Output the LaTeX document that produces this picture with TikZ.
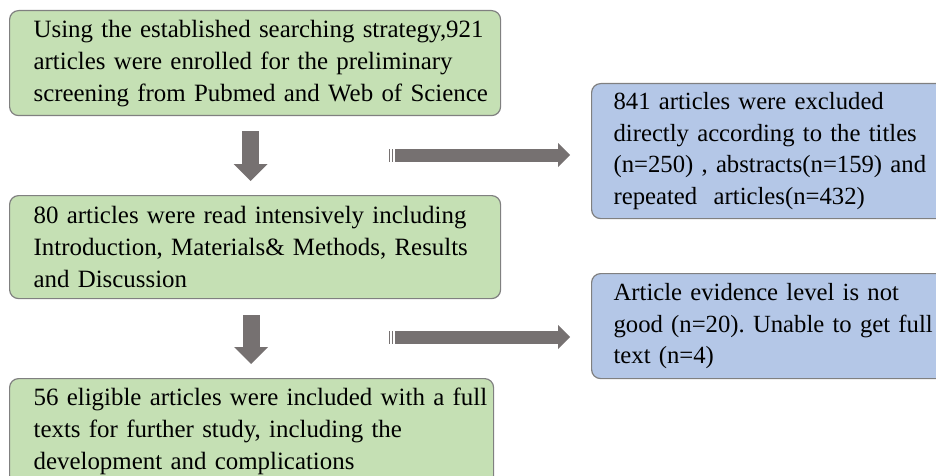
\documentclass[tikz,border=0pt]{standalone}
\usepackage{fontspec}
\setmainfont{Liberation Serif}
\usetikzlibrary{arrows.meta}
\definecolor{boxgreen}{RGB}{197,224,180}
\definecolor{boxblue}{RGB}{180,199,231}
\definecolor{boxline}{RGB}{128,128,128}
\definecolor{arrowgray}{RGB}{118,113,113}
\frenchspacing

\begin{document}
\begin{tikzpicture}[x=1pt,y=-1pt]
    \tikzstyle{box}=[draw=boxline, line width=1.2pt, rounded corners=9pt, anchor=north west, align=left, inner ysep=0pt, font=\fontsize{24.9}{32}\selectfont]
    \tikzstyle{stagebox}=[box, fill=boxgreen, inner xsep=24pt]
    \tikzstyle{exclbox}=[box, fill=boxblue, inner xsep=22pt, font=\fontsize{24.7}{31.5}\selectfont]
    \tikzstyle{downarrow}=[draw=arrowgray, line width=17pt, -{Triangle[width=34pt,length=17pt,line width=0pt]}]
    \tikzstyle{sidearrow}=[draw=arrowgray, line width=13pt, -{Triangle[width=24pt,length=12pt,line width=0pt]}]
    \tikzstyle{stripe}=[draw=arrowgray, line width=1.3pt]

    \useasboundingbox (0,0) rectangle (936,476);
    \clip (0,0) rectangle (936,476);

    % screening steps
    \node[stagebox, text width=443pt, minimum height=105pt] (S1) at (9,10)
        {\mbox{Using the established searching strategy,921}\\\mbox{articles were enrolled for the preliminary}\\\mbox{screening from Pubmed and Web of Science}};
    \node[stagebox, text width=443pt, minimum height=103pt] (S2) at (9,195)
        {\mbox{80 articles were read intensively including}\\\mbox{Introduction, Materials\& Methods, Results}\\\mbox{and Discussion}};
    \node[stagebox, text width=436pt, minimum height=106pt] (S3) at (9,378)
        {\mbox{56 eligible articles were included with a full}\\\mbox{texts for further study, including the}\\\mbox{development and complications}};

    % excluded articles
    \node[exclbox, text width=356pt, minimum height=135pt] (X1) at (591,83)
        {\mbox{841 articles were excluded}\\\mbox{directly according to the titles}\\\mbox{(n=250) , abstracts(n=159) and}\\\mbox{repeated\ \ articles(n=432)}};
    \node[exclbox, text width=356pt, minimum height=105pt] (X2) at (591,273)
        {\mbox{Article evidence level is not}\\\mbox{good (n=20). Unable to get full}\\\mbox{text (n=4)}};

    \draw[downarrow, shorten <=15pt, shorten >=14pt] ([xshift=-4.5pt]S1.south) -- ([xshift=-4.5pt]S2.north);
    \draw[downarrow, shorten <=16pt, shorten >=14pt] ([xshift=-4pt]S2.south) -- ([xshift=-4pt]S2.south |- S3.north);

    \coordinate (E1) at (389,155);
    \coordinate (E2) at (389,337);
    \foreach \e/\x in {E1/X1,E2/X2}{
        \draw[sidearrow, shorten >=21pt] ([xshift=6pt]\e) -- (\e -| \x.west);
        \draw[stripe] ([xshift=0.7pt,yshift=-6.5pt]\e) -- ([xshift=0.7pt,yshift=6.5pt]\e);
        \draw[stripe] ([xshift=3.7pt,yshift=-6.5pt]\e) -- ([xshift=3.7pt,yshift=6.5pt]\e);
        }
\end{tikzpicture}
\end{document}
